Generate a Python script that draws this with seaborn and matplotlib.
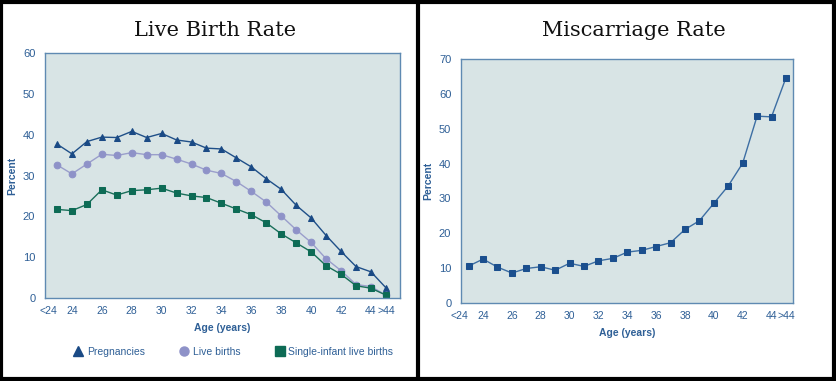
import pandas as pd
import seaborn as sns
import matplotlib.pyplot as plt
from matplotlib.lines import Line2D
from matplotlib.patches import Rectangle

# data
AGES = ['<24', '24', '25', '26', '27', '28', '29', '30', '31', '32', '33', '34',
        '35', '36', '37', '38', '39', '40', '41', '42', '43', '44', '>44']
PREGNANCIES = [37.7, 35.3, 38.3, 39.4, 39.3, 40.8, 39.3, 40.3, 38.7, 38.2, 36.7, 36.5,
               34.3, 32.1, 29.2, 26.6, 22.7, 19.6, 15.3, 11.4, 7.7, 6.4, 2.5]
LIVE_BIRTHS = [32.6, 30.4, 32.8, 35.2, 34.9, 35.6, 35.1, 35.1, 34.0, 32.8, 31.3, 30.5,
               28.5, 26.1, 23.5, 20.1, 16.7, 13.6, 9.6, 6.7, 3.3, 2.8, 0.7]
SINGLE_INFANT = [21.7, 21.4, 22.9, 26.5, 25.2, 26.3, 26.5, 26.9, 25.7, 25.0, 24.6, 23.2,
                 21.8, 20.4, 18.4, 15.7, 13.5, 11.3, 7.9, 5.8, 3.0, 2.4, 0.7]
MISCARRIAGE = [10.6, 12.6, 10.3, 8.6, 9.9, 10.4, 9.4, 11.4, 10.5, 12.1, 12.8, 14.6,
               15.1, 16.2, 17.3, 21.1, 23.6, 28.6, 33.6, 40.1, 53.6, 53.4, 64.6]
TICK_LABELS = ['<24', '24', '', '26', '', '28', '', '30', '', '32', '', '34',
               '', '36', '', '38', '', '40', '', '42', '', '44', '>44']

BG = '#d8e4e5'
SPINE = '#5f8ab2'
TXT = '#2e5f96'
C_PREG = '#1a4a85'
C_LIVE = '#8e92c8'
C_SING = '#0d6b55'
C_MISC = '#1b4f8e'

sns.set_style('white')
plt.rcParams['font.family'] = ['Liberation Sans', 'DejaVu Sans']

x = list(range(len(AGES)))
df_left = pd.DataFrame({
    'x': x * 3,
    'val': PREGNANCIES + LIVE_BIRTHS + SINGLE_INFANT,
    'series': ['Pregnancies'] * len(x) + ['Live births'] * len(x)
              + ['Single-infant live births'] * len(x),
})
df_right = pd.DataFrame({'x': x, 'val': MISCARRIAGE})

fig = plt.figure(figsize=(8.37, 3.81), dpi=100)
ax1 = fig.add_axes([45 / 837, 83 / 381, 355 / 837, 245 / 381])
ax2 = fig.add_axes([461 / 837, 78 / 381, 332 / 837, 244 / 381])

styles = {
    'Pregnancies': ('#1f4f88', C_PREG, '^', 4.8),
    'Live births': ('#9a9ecb', C_LIVE, 'o', 4.8),
    'Single-infant live births': ('#1a6f5a', C_SING, 's', 4.6),
}
for name, (lc, mc, mk, ms) in styles.items():
    sns.lineplot(data=df_left[df_left['series'] == name], x='x', y='val', ax=ax1,
                 color=lc, marker=mk, markersize=ms, markerfacecolor=mc,
                 markeredgecolor=mc, linewidth=1.0)

sns.lineplot(data=df_right, x='x', y='val', ax=ax2, color='#3d6ea3', marker='s',
             markersize=4.2, markerfacecolor=C_MISC, markeredgecolor=C_MISC, linewidth=1.0)

for ax, ymax, xl in [(ax1, 60, (-0.8, 22.94)), (ax2, 70, (-0.53, 22.49))]:
    ax.set_facecolor(BG)
    ax.set_xlim(*xl)
    ax.set_ylim(0, ymax)
    ax.set_xticks(x)
    ax.set_xticklabels(TICK_LABELS)
    ax.set_yticks(range(0, ymax + 1, 10))
    for s in ax.spines.values():
        s.set_color(SPINE)
        s.set_linewidth(1.0)
    ax.tick_params(axis='x', direction='in', length=5, width=0.9, color=SPINE,
                   labelsize=7.5, labelcolor=TXT, pad=6)
    ax.tick_params(axis='y', direction='out', length=5, width=0.9, color=SPINE,
                   labelsize=8, labelcolor=TXT, pad=2)
    ax.set_xlabel('Age (years)', fontsize=7.5, fontweight='bold', color=TXT, labelpad=5)
    ax.set_ylabel('Percent', fontsize=7.5, fontweight='bold', color=TXT, labelpad=4)
    labels = ax.get_xticklabels()
    labels[0].set_ha('right')
    labels[0].set_x(0.25)
    labels[-1].set_x(22.2)
    labels[-2].set_x(20.95)

handles = [Line2D([], [], linestyle='none', marker=mk, markersize=6.5,
                  markerfacecolor=mc, markeredgecolor=mc, label=name)
           for name, (lc, mc, mk, ms) in styles.items()]
leg = ax1.legend(handles=handles, loc='upper center', bbox_to_anchor=(0.53, -0.16),
                 ncol=3, frameon=False, fontsize=7.5, handletextpad=0.3,
                 columnspacing=3.3, handlelength=1.0)
for t in leg.get_texts():
    t.set_color(TXT)

fig.text(215 / 837, 1 - 31 / 381, 'Live Birth Rate', ha='center', va='center',
         fontsize=15, family='DejaVu Serif', color='#111111')
fig.text(634 / 837, 1 - 31 / 381, 'Miscarriage Rate', ha='center', va='center',
         fontsize=15, family='DejaVu Serif', color='#111111')

# black frame and divider
fig.patches.append(Rectangle((1.5 / 837, 2 / 381), 833 / 837, 377 / 381,
                             transform=fig.transFigure, fill=False,
                             edgecolor='black', linewidth=3))
fig.add_artist(Line2D([418 / 837, 418 / 837], [0, 1], transform=fig.transFigure,
                      color='black', linewidth=3))

fig.savefig('out.png', dpi=100, facecolor='white')
